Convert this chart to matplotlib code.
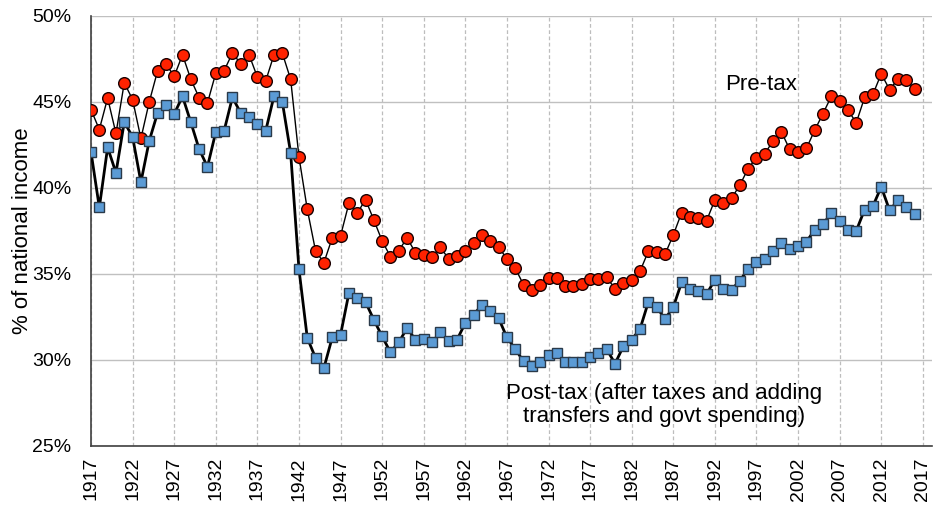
import matplotlib
matplotlib.use("Agg")
import matplotlib.pyplot as plt
import numpy as np

plt.rcParams['font.family'] = ['Liberation Sans', 'DejaVu Sans']

years = list(range(1917, 2017))

pre_tax = [
    44.56, 43.40, 45.23, 43.17, 46.12, 45.14, 42.88, 45.00, 46.80, 47.23,  # 1917-1926
    46.49, 47.75, 46.32, 45.25, 44.94, 46.68, 46.82, 47.84, 47.23, 47.75,  # 1927-1936
    46.45, 46.22, 47.75, 47.84, 46.32, 41.81, 38.76, 36.33, 35.66, 37.10,  # 1937-1946
    37.22, 39.10, 38.53, 39.33, 38.14, 36.92, 36.01, 36.36, 37.10, 36.24,  # 1947-1956
    36.11, 36.01, 36.55, 35.88, 36.05, 36.34, 36.79, 37.27, 36.92, 36.59,  # 1957-1966
    35.86, 35.34, 34.37, 34.08, 34.37, 34.76, 34.76, 34.30, 34.31, 34.43,  # 1967-1976
    34.72, 34.72, 34.80, 34.14, 34.47, 34.63, 35.16, 36.32, 36.27, 36.14,  # 1977-1986
    37.27, 38.56, 38.29, 38.27, 38.10, 39.30, 39.10, 39.40, 40.17, 41.13,  # 1987-1996
    41.77, 42.00, 42.74, 43.26, 42.24, 42.10, 42.30, 43.36, 44.33, 45.33,  # 1997-2006
    45.08, 44.52, 43.80, 45.27, 45.45, 46.64, 45.72, 46.33, 46.30, 45.75,  # 2007-2016
]

post_tax = [
    42.10, 38.87, 42.36, 40.88, 43.84, 42.97, 40.34, 42.74, 44.36, 44.81,  # 1917-1926
    44.30, 45.33, 43.82, 42.26, 41.23, 43.26, 43.32, 45.27, 44.36, 44.10,  # 1927-1936
    43.75, 43.32, 45.35, 45.00, 42.04, 35.28, 31.28, 30.12, 29.54, 31.31,  # 1937-1946
    31.47, 33.88, 33.60, 33.37, 32.34, 31.37, 30.45, 31.03, 31.86, 31.18,  # 1947-1956
    31.22, 31.03, 31.61, 31.09, 31.18, 32.15, 32.63, 33.21, 32.86, 32.43,  # 1957-1966
    31.31, 30.64, 29.92, 29.63, 29.86, 30.31, 30.39, 29.86, 29.86, 29.86,  # 1967-1976
    30.17, 30.38, 30.62, 29.79, 30.80, 31.18, 31.80, 33.37, 33.08, 32.38,  # 1977-1986
    33.08, 34.51, 34.12, 34.04, 33.83, 34.66, 34.12, 34.08, 34.62, 35.28,  # 1987-1996
    35.72, 35.88, 36.36, 36.83, 36.44, 36.63, 36.88, 37.56, 37.91, 38.53,  # 1997-2006
    38.10, 37.53, 37.52, 38.74, 38.95, 40.07, 38.70, 39.28, 38.91, 38.51,  # 2007-2016
]

x_ticks = list(range(1917, 2018, 5))
y_ticks = [25, 30, 35, 40, 45, 50]
y_label = "% of national income"
label_pre = "Pre-tax"
label_post = "Post-tax (after taxes and adding\ntransfers and govt spending)"

fig = plt.figure(figsize=(9.34, 5.05), dpi=100)
ax = fig.add_axes([91/934, 1 - 446/505, (932-91)/934, (446-16)/505])

ax.plot(years, pre_tax, color='black', lw=1.0, marker='o', markersize=8.4,
        markerfacecolor='#ff2200', markeredgecolor='#1a0000', markeredgewidth=1.0, zorder=3)
ax.plot(years, post_tax, color='black', lw=2.0, marker='s', markersize=7.8,
        markerfacecolor='#5b9bd5', markeredgecolor='#2a3a4a', markeredgewidth=1.0, zorder=4)

ax.set_xlim(1917, 2018.1)
ax.set_ylim(25, 50)
ax.set_yticks(y_ticks)
ax.set_yticklabels([f"{v}%" for v in y_ticks])
ax.set_xticks(x_ticks)
ax.set_xticklabels([str(v) for v in x_ticks], rotation=90)

ax.tick_params(axis='y', length=0, pad=14, labelsize=14, colors='black')
ax.tick_params(axis='x', length=0, pad=8, labelsize=14, colors='black')

ax.grid(axis='y', color='#c0c0c0', lw=1.0, ls='-', zorder=0)
ax.grid(axis='x', color='#bdbdbd', lw=0.9, ls=(0, (3, 2)), zorder=0)
ax.set_axisbelow(True)

for s in ['top', 'right']:
    ax.spines[s].set_visible(False)
ax.spines['left'].set_color('#404040')
ax.spines['bottom'].set_color('#404040')
ax.spines['left'].set_linewidth(1.2)
ax.spines['bottom'].set_linewidth(1.2)

ax.set_ylabel(y_label, fontsize=16)
ax.yaxis.set_label_coords(-0.069, 0.5)

ax.text(1997.6, 46.0, label_pre, fontsize=16, ha='center', va='center')
ax.text(1985.9, 27.4, label_post, fontsize=16, ha='center', va='center', linespacing=1.15)

fig.savefig("out.png", dpi=100)
